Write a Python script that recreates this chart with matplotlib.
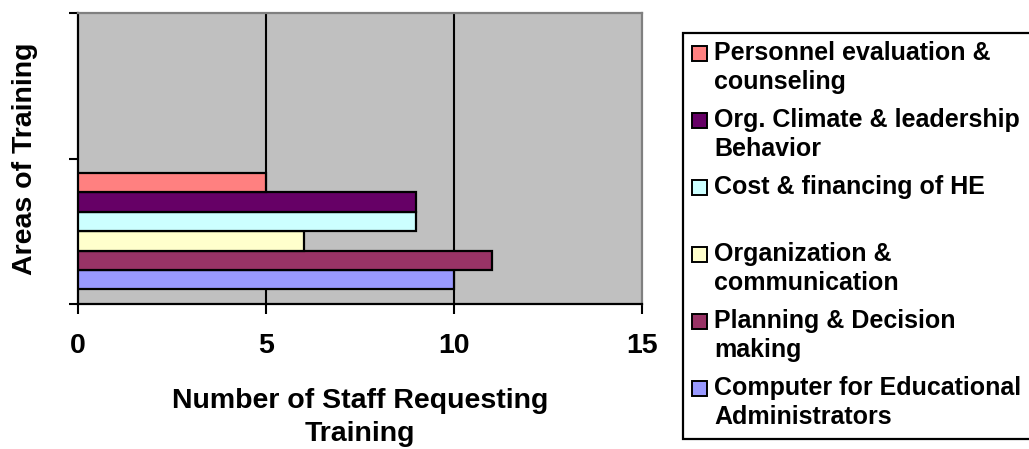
import matplotlib
matplotlib.use("Agg")
import matplotlib.pyplot as plt
from matplotlib.patches import Rectangle

# Training areas, listed from the bottom bar upwards
areas = [
    "Computer for Educational\nAdministrators",
    "Planning & Decision\nmaking",
    "Organization &\ncommunication",
    "Cost & financing of HE\n",
    "Org. Climate & leadership\nBehavior",
    "Personnel evaluation &\ncounseling",
]
staff_counts = [10, 11, 6, 9, 9, 5]
bar_colors = ["#9999FF", "#993366", "#FFFFCC", "#CCFFFF", "#660066", "#FF8080"]
x_ticks = [0, 5, 10, 15]

plt.rcParams["font.family"] = ["Liberation Sans", "DejaVu Sans"]
plt.rcParams["font.weight"] = "bold"

W, H = 1029, 449
fig = plt.figure(figsize=(W / 100, H / 100), dpi=100)


def fx(px):
    return px / W


def fy(py):
    return 1 - py / H


ax = fig.add_axes([fx(78), fy(304), fx(642) - fx(78), fy(13) - fy(304)])
ax.set_facecolor("#C0C0C0")

# one category slot (0..1) holds all series, the second slot stays empty
n = len(staff_counts)
bar_h = 1 / (n + 1.5)
centers = [0.5 + (i - (n - 1) / 2) * bar_h for i in range(n)]
ax.barh(centers, staff_counts, height=bar_h, color=bar_colors,
        edgecolor="black", linewidth=1.6, zorder=3)

ax.set_xlim(0, 15)
ax.set_ylim(0, 2)
ax.set_xticks(x_ticks)
ax.set_xticklabels([str(t) for t in x_ticks], fontsize=20.5, fontweight="bold")
ax.set_yticks([0, 1, 2])
ax.set_yticklabels([])
ax.tick_params(axis="x", direction="out", length=7.2, width=1.5, pad=13.5)
ax.tick_params(axis="y", direction="out", length=6.5, width=1.5)

for v in [5, 10]:
    ax.axvline(v, color="black", linewidth=1.5, zorder=1)

for side in ["left", "bottom"]:
    ax.spines[side].set_color("black")
    ax.spines[side].set_linewidth(1.6)
for side in ["top", "right"]:
    ax.spines[side].set_color("#808080")
    ax.spines[side].set_linewidth(1.6)

# axis titles
fig.text(fx(360), fy(408), "Number of Staff Requesting", ha="center",
         va="baseline", fontsize=20.5, fontweight="bold")
fig.text(fx(360), fy(441), "Training", ha="center", va="baseline",
         fontsize=20.5, fontweight="bold")
fig.text(fx(25), fy(159), "Areas of Training", rotation=90, ha="center",
         va="center", fontsize=20.5, fontweight="bold")

# legend box, top entry = last series
fig.add_artist(Rectangle((fx(683), fy(439)), fx(1040) - fx(683),
                         fy(33) - fy(439), transform=fig.transFigure,
                         facecolor="white", edgecolor="black", linewidth=1.6,
                         clip_on=True))
for k, idx in enumerate(range(n - 1, -1, -1)):
    base = 60 + 67 * k
    fig.add_artist(Rectangle((fx(692), fy(base + 1)), fx(707) - fx(692),
                             fy(base - 14) - fy(base + 1),
                             transform=fig.transFigure,
                             facecolor=bar_colors[idx], edgecolor="black",
                             linewidth=1.4))
    for j, line in enumerate(areas[idx].split("\n")):
        if line:
            fig.text(fx(714), fy(base + 29 * j), line, ha="left",
                     va="baseline", fontsize=18, fontweight="bold")

fig.savefig("out.png", dpi=100)
